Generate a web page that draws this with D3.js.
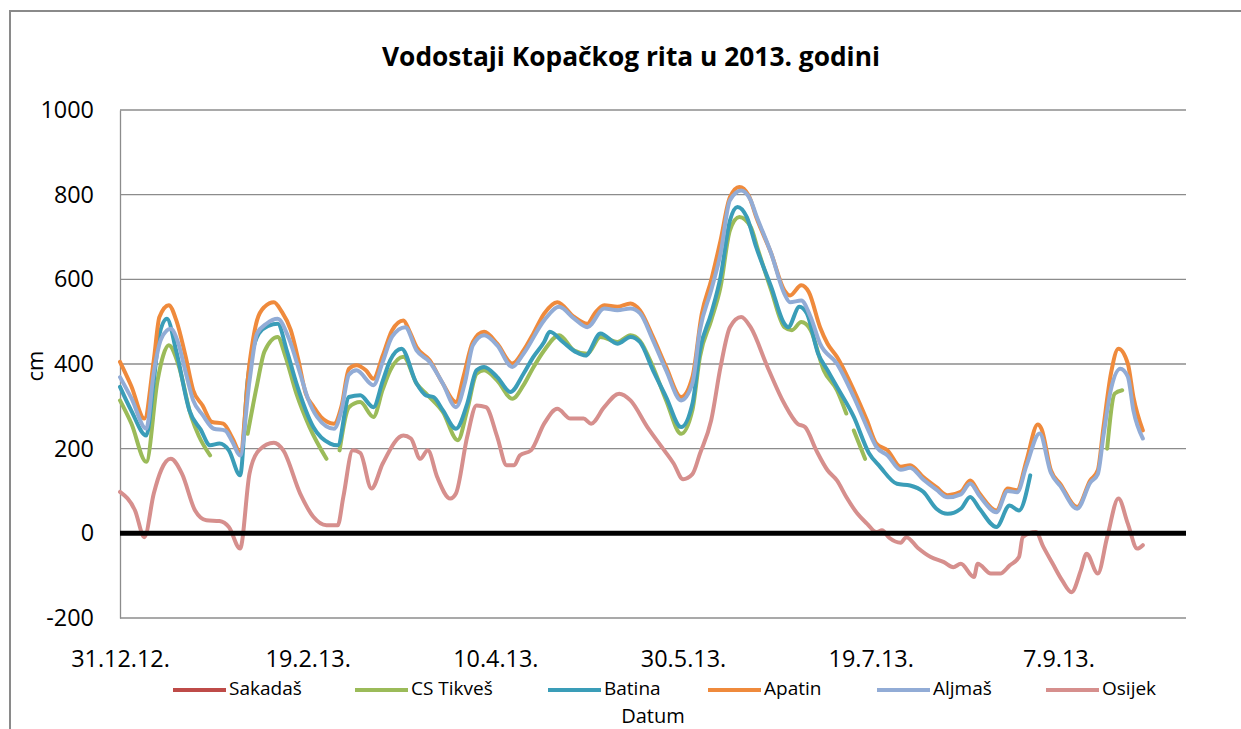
<!DOCTYPE html>
<html>
<head>
<meta charset="utf-8">
<script src="https://d3js.org/d3.v7.min.js"></script>
<style>
  body { margin: 0; background: #fff; }
  text { font-family: "Open Sans", sans-serif; fill: #000; }
</style>
</head>
<body>
<div id="maincontent"></div>
<script>
// day offsets from 31.12.2012, value in cm; null breaks the line
var seriesNames = ["Sakadaš", "CS Tikveš", "Batina", "Apatin", "Aljmaš", "Osijek"];
var seriesColors = ["#be4b48", "#9bbb59", "#3a9db8", "#ef8a3c", "#92acd6", "#d68f8d"];

var sakadas = [];

var csTikves = [
  [0,314],[3,260],[7,169],[10,361],[11.5,420],[13,444],[15.5,400],[19,275],[21,230],[24,184],[25,null],
  [34,235],[36.5,350],[38.5,430],[42,464],[44,420],[47,330],[50.5,251],[55,176],[56,null],
  [58.5,196],[61,298],[64,310],[67.5,275],[70,340],[72,385],[75.5,417],[79,354],[82,326],[86,287],
  [90,220],[92.5,291],[95,377],[97,385],[100.5,361],[104.5,318],[107.5,350],[110,390],[113,432],
  [117,468],[121,432],[124.5,424],[128,464],[132.5,452],[136,468],[138.5,455],[142,393],[145.5,314],
  [149.5,235],[152.5,291],[154.5,417],[157.5,503],[160,582],[162.5,716],[165,747],[168,724],[170,669],
  [173.5,574],[177,487],[179,480],[181.5,499],[184,480],[187.5,385],[191,338],[193.5,283],[194.5,null],
  [195.5,243],[198.5,176],[199.5,null],
  [263,200],[265,330],[267,338]
];

var batina = [
  [0,346],[3,290],[7,231],[9,360],[10.5,470],[12.5,507],[15,430],[18.5,290],[21.5,245],[24,208],
  [26.5,212],[29,196],[32,137],[34,361],[37,472],[39.5,490],[42,495],[44.5,430],[47,354],[51.5,251],
  [56,212],[58,208],[61,322],[64,326],[67.5,298],[70,360],[72,409],[75,436],[79,354],[81.5,326],
  [83.5,322],[86,291],[89.5,247],[92.5,306],[95,385],[97,393],[100.5,369],[104,334],[107.5,377],
  [110,415],[113,452],[114.5,476],[118,452],[121.5,428],[124,420],[128,472],[132.5,448],[136,464],
  [138.5,452],[142,385],[145.5,322],[149.5,251],[152.5,306],[154.5,432],[157.5,519],[160,606],
  [162.5,739],[164.5,771],[167,747],[169.5,676],[173.5,582],[177,495],[178,487],[181,535],[183,519],
  [186,424],[188.5,385],[191,346],[195.5,275],[199.5,190],[202.5,157],[207,117],[210.5,113],[214,98],
  [217.5,58],[220.5,46],[224,58],[226.5,86],[229,58],[233.5,15],[237,66],[239.5,54],[242.5,137]
];

var apatin = [
  [0,405],[3,348],[6.5,271],[9,409],[10.5,511],[13,539],[15,503],[17.5,417],[19.5,338],[22,302],
  [24.5,263],[27.5,259],[30,224],[32,192],[34.5,401],[36.5,503],[38.5,535],[41,546],[43,525],[45.5,480],
  [47.5,410],[49.5,330],[51.5,300],[53.5,275],[57,259],[59,300],[61,389],[63,397],[65.5,385],[67.5,365],
  [70,420],[72.5,480],[75.5,503],[77,480],[79,440],[82.5,409],[86,354],[89.5,310],[91.5,370],[94,452],
  [97,476],[100.5,448],[104.5,401],[107.5,432],[110,470],[113,519],[116.5,546],[121,511],[124.5,495],
  [126.5,520],[129,539],[132.5,535],[136,543],[138.5,527],[142,464],[145.5,393],[149.5,322],[152.5,369],
  [155,519],[157.5,598],[160,692],[162.5,794],[165,818],[167.5,798],[169.5,747],[173.5,661],[177,574],
  [178.5,562],[181.5,586],[183.5,570],[186.5,487],[188.5,448],[191,417],[195.5,338],[199,267],
  [201.5,212],[204.5,196],[208,157],[210.5,161],[214,133],[217.5,109],[220.5,90],[224,98],[226.5,125],
  [229,94],[233.5,54],[236.5,106],[239,102],[241.5,172],[244.5,257],[245.5,247],[248,149],[250.5,117],
  [255,62],[258.5,125],[260.5,149],[262,250],[264,377],[266,436],[268.5,401],[270,322],[272.5,243]
];

var aljmas = [
  [0,369],[3,320],[7,247],[9,380],[11,460],[13.5,483],[15.5,450],[17.5,380],[19.5,314],[22,280],
  [25,247],[28,243],[30,215],[32,184],[34.5,360],[36.5,472],[39,495],[42,507],[45,460],[48,377],
  [50,320],[52.5,275],[57,247],[59,290],[61,375],[63,385],[67.5,350],[70,405],[72.5,465],[76,487],
  [79,432],[82.5,405],[86,354],[89.5,298],[92,360],[94,444],[97,468],[100.5,444],[104.5,393],
  [107.5,424],[113,503],[117,535],[121,507],[124.5,487],[129,531],[132.5,527],[136,531],[138.5,520],
  [142,456],[145.5,385],[149.5,314],[152.5,354],[154.5,480],[157.5,574],[160,661],[162.5,787],
  [165.5,810],[168,787],[169.5,751],[173.5,661],[177,566],[178.5,546],[181.5,550],[184,511],
  [186.5,448],[191,401],[195.5,322],[199,251],[201.5,204],[204.5,184],[208,150],[210.5,155],[214,127],
  [217.5,103],[220.5,85],[224,92],[226.5,118],[229,88],[233.5,50],[236.5,100],[239,97],[241.5,160],
  [245,236],[248,143],[250.5,112],[255,58],[258.5,120],[260.5,140],[262,230],[264,340],[266.5,389],
  [268.5,370],[270,290],[272.5,224]
];

var osijek = [
  [0,98],[4,54],[6.5,-9],[9,94],[11,150],[13.5,176],[16.5,141],[20,54],[23,31],[26.5,29],[29,15],
  [32,-36],[34.5,141],[37,196],[41,214],[43.5,196],[48,94],[51.5,39],[55,19],[58,19],[59.5,86],
  [62,196],[64,190],[67,106],[70,165],[75.5,231],[77.5,224],[80,176],[82,196],[84.5,133],[88,82],
  [89.5,94],[92.5,228],[95,302],[97.5,298],[100.5,228],[103,161],[105,161],[106.5,184],[109.5,196],
  [113,259],[116.5,294],[120,271],[123.5,271],[125.5,259],[129,298],[133,330],[136,314],[140.5,251],
  [145,196],[147.5,165],[150,128],[152.5,140],[154.5,188],[157.5,267],[160,393],[162.5,487],
  [165.5,511],[168,487],[172.5,393],[177,306],[180.5,259],[182.5,251],[185.5,196],[188.5,149],
  [191,125],[193.5,86],[196.5,46],[199,23],[201.5,3],[203,7],[205,-11],[208,-22],[209.5,-9],
  [212.5,-34],[216,-56],[219.5,-68],[222,-80],[224,-72],[227.5,-103],[228.5,-72],[232,-95],
  [234.5,-95],[237,-76],[239.5,-56],[240.5,-9],[244,3],[246,-32],[248.5,-72],[251,-111],[253.5,-139],
  [256,-87],[257.5,-48],[260.5,-95],[263,-9],[266,82],[268.5,23],[271,-36],[272.5,-28]
];

var allSeries = [sakadas, csTikves, batina, apatin, aljmas, osijek];

// axis ticks
var yTicks = [-200, 0, 200, 400, 600, 800, 1000];
var xTickDays = [0, 50, 100, 150, 200, 250];
var lastDay = 284;

var startMs = Date.UTC(2012, 11, 31);
function toDate(d) {
  return new Date(startMs + d * 864e5);
}

makeSVG();

function makeSVG() {
  var w = 1241;
  var h = 729;
  var left = 120, right = 1186, top = 110, bottom = 618;

  var svg = d3.select("#maincontent")
    .append("svg")
    .attr("width", w)
    .attr("height", h);

  // outer chart frame
  svg.append("rect")
    .attr("x", 10).attr("y", 11)
    .attr("width", 1250).attr("height", 740)
    .attr("fill", "none")
    .attr("stroke", "#8a8a8a")
    .attr("stroke-width", 2);

  var x = d3.scaleUtc()
    .domain([toDate(0), toDate(lastDay)])
    .range([left, right]);

  var y = d3.scaleLinear()
    .domain([-200, 1000])
    .range([bottom, top]);

  // gridlines
  svg.selectAll("line.grid")
    .data(yTicks)
    .enter()
    .append("line")
    .attr("class", "grid")
    .attr("x1", left).attr("x2", right)
    .attr("y1", function(d) { return y(d); })
    .attr("y2", function(d) { return y(d); })
    .attr("stroke", "#8c8c8c")
    .attr("stroke-width", 1.3);

  // y axis
  var yAxis = svg.append("g")
    .attr("transform", "translate(" + left + ",0)")
    .call(d3.axisLeft(y)
      .tickValues(yTicks)
      .tickFormat(function(d) { return String(d); })
      .tickSize(0)
      .tickPadding(26));
  yAxis.select(".domain").attr("stroke", "#8c8c8c").attr("stroke-width", 1.3);
  yAxis.selectAll("text")
    .attr("font-family", "Open Sans")
    .attr("font-size", "23.4px")
    .attr("fill", "#000");

  // x axis labels (no tick marks)
  var xAxis = svg.append("g")
    .attr("transform", "translate(0," + bottom + ")")
    .call(d3.axisBottom(x)
      .tickValues(xTickDays.map(toDate))
      .tickFormat(d3.utcFormat("%-d.%-m.%y."))
      .tickSize(0)
      .tickPadding(32));
  xAxis.select(".domain").remove();
  xAxis.selectAll("text")
    .attr("font-family", "Open Sans")
    .attr("font-size", "23.4px")
    .attr("fill", "#000");

  // series lines
  var line = d3.line()
    .defined(function(d) { return d[1] !== null; })
    .x(function(d) { return x(toDate(d[0])); })
    .y(function(d) { return y(d[1]); })
    .curve(d3.curveMonotoneX);

  svg.selectAll("path.series")
    .data(allSeries)
    .enter()
    .append("path")
    .attr("class", "series")
    .attr("d", function(d) { return d.length ? line(d) : null; })
    .attr("fill", "none")
    .attr("stroke", function(d, i) { return seriesColors[i]; })
    .attr("stroke-width", 4)
    .attr("stroke-linejoin", "round")
    .attr("stroke-linecap", "round");

  // thick zero line
  svg.append("line")
    .attr("x1", left).attr("x2", right)
    .attr("y1", y(0)).attr("y2", y(0))
    .attr("stroke", "#000")
    .attr("stroke-width", 5);

  // title
  svg.append("text")
    .text("Vodostaji Kopačkog rita u 2013. godini")
    .attr("x", 631).attr("y", 66)
    .attr("text-anchor", "middle")
    .attr("font-size", "27px")
    .attr("font-weight", "bold")
    .attr("textLength", 498)
    .attr("lengthAdjust", "spacingAndGlyphs");

  // axis titles
  svg.append("text")
    .text("cm")
    .attr("transform", "translate(43,366) rotate(-90)")
    .attr("text-anchor", "middle")
    .attr("font-size", "22px");

  svg.append("text")
    .text("Datum")
    .attr("x", 653).attr("y", 723)
    .attr("text-anchor", "middle")
    .attr("font-size", "20px");

  // legend
  var legendX = [173, 355, 548, 708, 877, 1046];
  var legend = svg.selectAll("g.legend")
    .data(seriesNames)
    .enter()
    .append("g")
    .attr("class", "legend")
    .attr("transform", function(d, i) { return "translate(" + legendX[i] + ",690)"; });
  legend.append("line")
    .attr("x1", 0).attr("x2", 53)
    .attr("y1", 0).attr("y2", 0)
    .attr("stroke", function(d, i) { return seriesColors[i]; })
    .attr("stroke-width", 4);
  legend.append("text")
    .text(function(d) { return d; })
    .attr("x", 56).attr("y", 5)
    .attr("font-size", "19px");
}
</script>
</body>
</html>
